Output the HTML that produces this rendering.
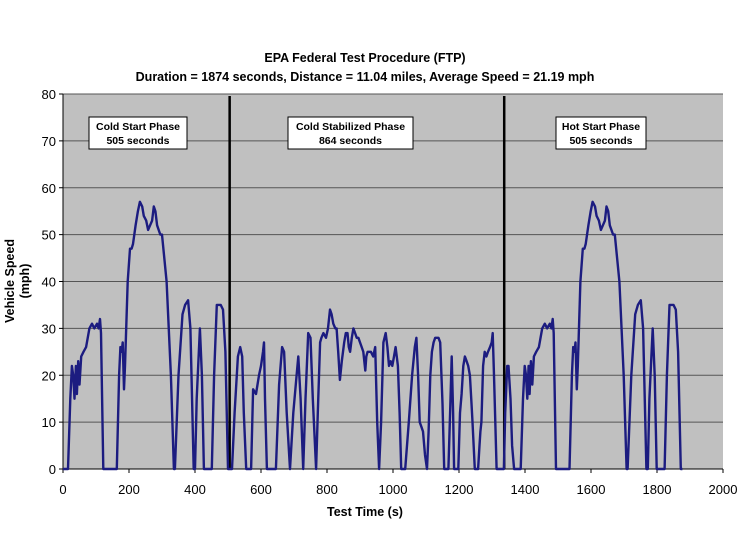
<!DOCTYPE html>
<html><head><meta charset="utf-8"><style>
body{margin:0;background:#fff;}
svg{display:block;font-family:"Liberation Sans",Arial,sans-serif;}
</style></head><body>
<svg id="chart" width="739" height="538" xmlns="http://www.w3.org/2000/svg">
<text x="365" y="62" text-anchor="middle" font-size="12.5" font-weight="bold">EPA Federal Test Procedure (FTP)</text>
<text x="365" y="81" text-anchor="middle" font-size="12.5" font-weight="bold">Duration = 1874 seconds, Distance = 11.04 miles, Average Speed = 21.19 mph</text>
<rect x="63" y="94" width="660" height="375" fill="#c0c0c0"/>
<g id="grid"></g>
<g id="axes"></g>
<g id="phases"></g>
<path id="trace" fill="none" stroke="#1c1c80" stroke-width="2.4" stroke-linejoin="round"/>
<g id="boxes"></g>
<text x="365" y="516" text-anchor="middle" font-size="12.5" font-weight="bold">Test Time (s)</text>
<text transform="translate(14,281) rotate(-90)" text-anchor="middle" font-size="12.5" font-weight="bold"><tspan x="0" dy="0">Vehicle Speed</tspan><tspan x="0" dy="15">(mph)</tspan></text>
</svg>
<script>
const xTicks=[0,200,400,600,800,1000,1200,1400,1600,1800,2000];
const yTicks=[0,10,20,30,40,50,60,70,80];
const phaseBounds=[505,1337];
const phaseNames=["Cold Start Phase","Cold Stabilized Phase","Hot Start Phase"];
const phaseDurations=["505 seconds","864 seconds","505 seconds"];
const coldTimes=[0,15,22,27,31,35,39,42,46,50,55,62,70,80,88,95,103,108,112,115,122,163,170,174,178,181,185,188,196,203,208,212,220,227,233,240,245,252,258,264,270,275,280,285,295,300,314,327,336,339,350,362,370,379,386,396,400,405,415,421,427,451,458,466,472,478,485,492,500,505];
const coldSpeeds=[0,0,15,22,20,15,22,16,23,18,24,25,26,30,31,30,31,30,32,29,0,0,20,26,25,27,17,22,40,47,47,48,52,55,57,56,54,53,51,52,53,56,55,52,50,50,40,20,0,0,20,33,35,36,30,0,0,15,30,20,0,0,20,35,35,35,34,25,0,0];
const stabTimes=[512,520,530,537,543,548,555,570,576,585,594,600,606,609,612,618,645,655,664,670,678,688,698,708,713,720,728,735,743,750,757,767,772,779,783,789,797,803,809,814,819,825,829,834,839,845,852,857,862,866,870,875,880,885,890,895,900,905,910,916,919,923,928,933,940,946,952,958,964,971,978,983,988,993,998,1003,1008,1015,1020,1025,1037,1048,1058,1066,1071,1076,1081,1086,1091,1097,1103,1108,1113,1118,1123,1128,1133,1138,1143,1150,1155,1168,1173,1178,1182,1185,1198,1203,1208,1213,1218,1223,1228,1233,1238,1241,1248,1258,1262,1265,1268,1273,1278,1283,1288,1294,1299,1302,1306,1314,1336,1340,1346,1350,1356,1361,1367];
const stabSpeeds=[0,12,24,26,24,12,0,0,17,16,20,22,25,27,15,0,0,18,26,25,12,0,12,20,24,15,0,15,29,28,15,0,12,27,28,29,28,30,34,33,31,30,30,25,19,23,27,29,29,26,25,28,30,29,28,28,27,26,25,21,24,25,25,25,24,26,10,0,10,27,29,26,22,23,22,24,26,22,12,0,0,10,20,26,28,20,10,9,8,3,0,8,20,25,27,28,28,28,27,14,0,0,12,24,12,0,0,12,16,22,24,23,22,20,14,10,0,0,5,8,10,22,25,24,25,26,27,29,20,0,0,12,22,22,15,5,0];
const hotShift=1372;

const NS="http://www.w3.org/2000/svg";
const X0=63,X1=723,Y0=469,Y1=94;
function sx(t){return X0+(t-0)/(2000-0)*(X1-X0);}
function sy(v){return Y0-(v-0)/(80-0)*(Y0-Y1);}
function mk(tag,attrs,parent){const e=document.createElementNS(NS,tag);for(const k in attrs)e.setAttribute(k,attrs[k]);parent.appendChild(e);return e;}
const grid=document.getElementById('grid'),axes=document.getElementById('axes');
yTicks.forEach(v=>{
  if(v>0){const l=mk('line',{x1:X0,x2:X1,y1:sy(v),y2:sy(v),stroke:'#555','stroke-width':1},grid);
  
  }
  const tk=mk('line',{x1:X0-4,x2:X0,y1:sy(v),y2:sy(v),stroke:'#000'},axes);
  
  
  const t=mk('text',{x:X0-7,y:sy(v)+5,'text-anchor':'end','font-size':13},axes);t.textContent=v;
  
  
});
xTicks.forEach(v=>{
  const tk=mk('line',{x1:sx(v),x2:sx(v),y1:Y0,y2:Y0+4,stroke:'#000'},axes);
  
  
  const t=mk('text',{x:sx(v),y:494,'text-anchor':'middle','font-size':13},axes);t.textContent=v;
  
  
});
const ax=mk('path',{d:`M${X0} ${Y1}V${Y0}H${X1}`,fill:'none',stroke:'#000','stroke-width':1},axes);


const ph=document.getElementById('phases');
phaseBounds.forEach(b=>{
  const l=mk('line',{x1:sx(b),x2:sx(b),y1:Y1+2,y2:Y0,stroke:'#000','stroke-width':2.5},ph);
  
  
});
const T=[],V=[];
coldTimes.forEach((t,i)=>{T.push(t);V.push(coldSpeeds[i]);});
stabTimes.forEach((t,i)=>{T.push(t);V.push(stabSpeeds[i]);});
coldTimes.forEach((t,i)=>{if(t>=15){T.push(t+hotShift);V.push(coldSpeeds[i]);}});
document.getElementById('trace').setAttribute('d',T.map((t,i)=>(i?'L':'M')+sx(t).toFixed(1)+' '+sy(V[i]).toFixed(1)).join(''));
const boxes=document.getElementById('boxes');
const boxX=[[89,187],[288,413],[556,646]];
boxX.forEach((bx,i)=>{
  const g=mk('g',{},boxes);
  
  
  mk('rect',{x:bx[0],y:117,width:bx[1]-bx[0],height:32,fill:'#fff',stroke:'#000','stroke-width':1},g);
  const a=mk('text',{x:(bx[0]+bx[1])/2,y:130,'text-anchor':'middle','font-size':10.5,'font-weight':'bold'},g);a.textContent=phaseNames[i];
  const b=mk('text',{x:(bx[0]+bx[1])/2,y:144,'text-anchor':'middle','font-size':10.5,'font-weight':'bold'},g);b.textContent=phaseDurations[i];
});
</script>
</body></html>
